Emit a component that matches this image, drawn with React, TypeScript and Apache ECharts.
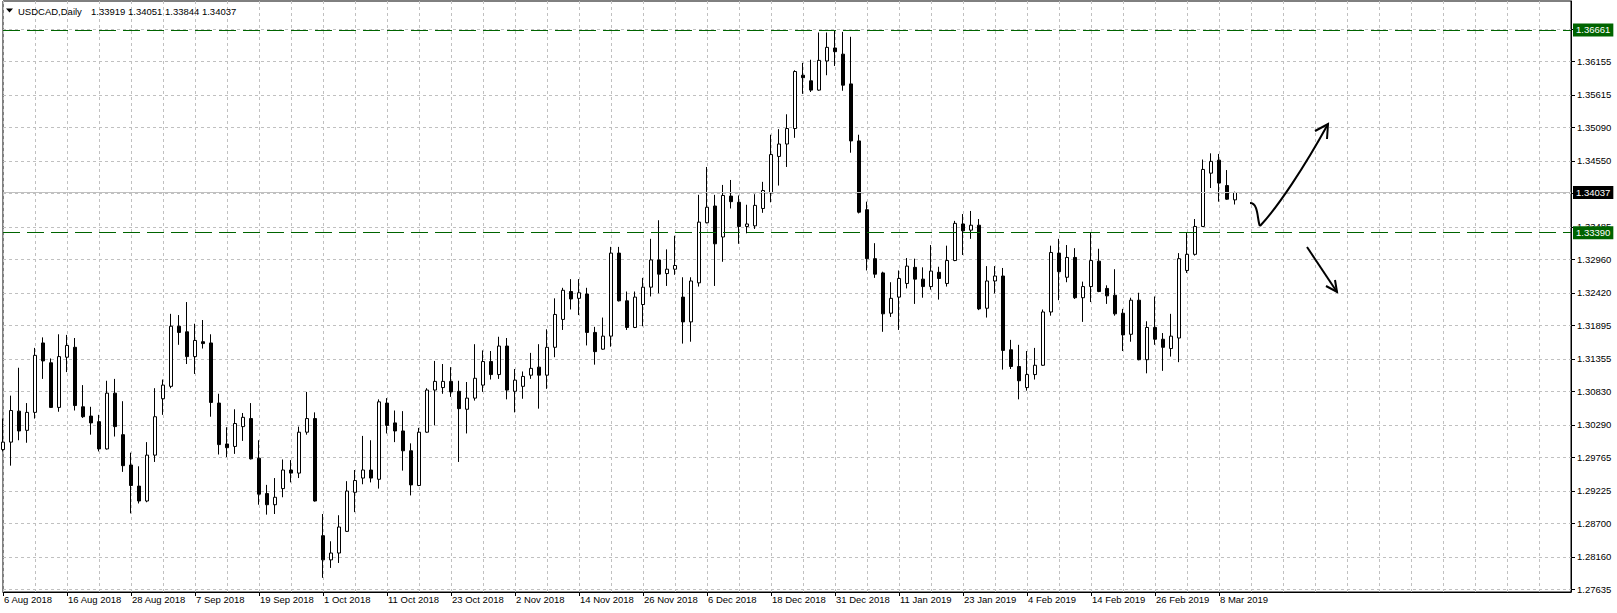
import React, { useEffect, useRef } from "react";
import * as echarts from "echarts";

const symbolName = "USDCAD";
const periodName = "Daily";

const opens = [
  1.2989, 1.3001, 1.3051, 1.3020, 1.3049, 1.3161, 1.3129, 1.3057, 1.3138, 1.3154,
  1.3058, 1.3043, 1.3034, 1.2990, 1.3080, 1.3013, 1.2964, 1.2930, 1.2906, 1.2980,
  1.3071, 1.3091, 1.3188, 1.3179, 1.3139, 1.3163, 1.3161, 1.3064, 1.2998, 1.2994,
  1.3026, 1.3039, 1.2975, 1.2918, 1.2900, 1.2926, 1.2956, 1.2951, 1.3017, 1.3039,
  1.2850, 1.2811, 1.2822, 1.2857, 1.2920, 1.2943, 1.2956, 1.2941, 1.3064, 1.3032,
  1.3019, 1.2987, 1.2931, 1.3017, 1.3085, 1.3089, 1.3099, 1.3083, 1.3054, 1.3072,
  1.3093, 1.3131, 1.3110, 1.3156, 1.3083, 1.3091, 1.3109, 1.3122, 1.3109, 1.3154,
  1.3199, 1.3244, 1.3233, 1.3240, 1.3178, 1.3151, 1.3172, 1.3306, 1.3229, 1.3186,
  1.3223, 1.3251, 1.3295, 1.3273, 1.3280, 1.3235, 1.3195, 1.3258, 1.3355, 1.3382,
  1.3332, 1.3398, 1.3388, 1.3349, 1.3350, 1.3378, 1.3403, 1.3462, 1.3482, 1.3507,
  1.3593, 1.3584, 1.3569, 1.3616, 1.3637, 1.3627, 1.3579, 1.3487, 1.3376, 1.3297,
  1.3274, 1.3209, 1.3235, 1.3257, 1.3283, 1.3264, 1.3252, 1.3275, 1.3257, 1.3294,
  1.3353, 1.3343, 1.3351, 1.3217, 1.3261, 1.3269, 1.3150, 1.3123, 1.3089, 1.3110,
  1.3125, 1.3211, 1.3306, 1.3267, 1.3299, 1.3234, 1.3252, 1.3293, 1.3249, 1.3238,
  1.3209, 1.3175, 1.3230, 1.3134, 1.3186, 1.3167, 1.3152, 1.3169, 1.3278, 1.3304,
  1.3349, 1.3435, 1.3456, 1.3415, 1.33919,
];

const closes = [
  1.3001, 1.3052, 1.3019, 1.3049, 1.3141, 1.3132, 1.3057, 1.3139, 1.3157, 1.3060,
  1.3042, 1.3032, 1.2990, 1.3080, 1.3026, 1.2963, 1.2931, 1.2906, 1.2980, 1.3042,
  1.3093, 1.3188, 1.3178, 1.3139, 1.3165, 1.3160, 1.3065, 1.2997, 1.2992, 1.3031,
  1.3041, 1.2974, 1.2917, 1.2900, 1.2912, 1.2956, 1.2951, 1.3017, 1.3039, 1.2906,
  1.2811, 1.2822, 1.2864, 1.2922, 1.2939, 1.2956, 1.2943, 1.3066, 1.3028, 1.3019,
  1.2987, 1.2932, 1.3017, 1.3085, 1.3099, 1.3099, 1.3082, 1.3055, 1.3072, 1.3104,
  1.3131, 1.3110, 1.3156, 1.3085, 1.3101, 1.3107, 1.3120, 1.3109, 1.3154, 1.3207,
  1.3246, 1.3232, 1.3242, 1.3178, 1.3147, 1.3172, 1.3306, 1.3229, 1.3186, 1.3235,
  1.3251, 1.3295, 1.3272, 1.3280, 1.3286, 1.3195, 1.3261, 1.3356, 1.3380, 1.3321,
  1.3399, 1.3389, 1.3349, 1.3353, 1.3383, 1.3407, 1.3465, 1.3482, 1.3507, 1.3599,
  1.3589, 1.3569, 1.3617, 1.3638, 1.3631, 1.3577, 1.3487, 1.3372, 1.3297, 1.3272,
  1.3208, 1.3233, 1.3265, 1.3285, 1.3264, 1.3252, 1.3277, 1.3265, 1.3294, 1.3354,
  1.3342, 1.3351, 1.3216, 1.3261, 1.3269, 1.3149, 1.3123, 1.3100, 1.3110, 1.3125,
  1.3211, 1.3307, 1.3276, 1.3299, 1.3234, 1.3252, 1.3294, 1.3244, 1.3237, 1.3208,
  1.3174, 1.3230, 1.3134, 1.3186, 1.3167, 1.3154, 1.3172, 1.3297, 1.3304, 1.3349,
  1.3441, 1.3454, 1.3419, 1.3393, 1.34037,
];

const lows = [
  1.2986, 1.2963, 1.3004, 1.3000, 1.3039, 1.3103, 1.3056, 1.3050, 1.3114, 1.3052,
  1.3040, 1.3013, 1.2986, 1.2989, 1.3010, 1.2953, 1.2886, 1.2902, 1.2904, 1.2969,
  1.3045, 1.3088, 1.3158, 1.3127, 1.3111, 1.3152, 1.3042, 1.2981, 1.2977, 1.2982,
  1.3003, 1.2973, 1.2900, 1.2884, 1.2885, 1.2912, 1.2936, 1.2943, 1.3013, 1.2905,
  1.2782, 1.2798, 1.2806, 1.2856, 1.2888, 1.2933, 1.2936, 1.2926, 1.3015, 1.3001,
  1.2955, 1.2915, 1.2930, 1.3016, 1.3028, 1.3079, 1.3074, 1.2969, 1.3015, 1.3068,
  1.3082, 1.3102, 1.3103, 1.3070, 1.3049, 1.3071, 1.3103, 1.3055, 1.3087, 1.3138,
  1.3182, 1.3215, 1.3206, 1.3157, 1.3126, 1.3150, 1.3155, 1.3228, 1.3182, 1.3185,
  1.3188, 1.3236, 1.3241, 1.3253, 1.3271, 1.3160, 1.3163, 1.3252, 1.3354, 1.3253,
  1.3292, 1.3378, 1.3321, 1.3338, 1.3345, 1.3371, 1.3388, 1.3415, 1.3445, 1.3492,
  1.3563, 1.3566, 1.3568, 1.3593, 1.3608, 1.3568, 1.3468, 1.3370, 1.3278, 1.3266,
  1.3179, 1.3203, 1.3182, 1.3249, 1.3224, 1.3234, 1.3247, 1.3231, 1.3252, 1.3293,
  1.3303, 1.3329, 1.3214, 1.3202, 1.3241, 1.3118, 1.3119, 1.3070, 1.3084, 1.3102,
  1.3124, 1.3205, 1.3230, 1.3259, 1.3232, 1.3195, 1.3227, 1.3243, 1.3224, 1.3205,
  1.3148, 1.3163, 1.3133, 1.3112, 1.3158, 1.3116, 1.3139, 1.3130, 1.3274, 1.3302,
  1.3348, 1.3411, 1.3389, 1.3392, 1.33844,
];

const highs = [
  1.3039, 1.3076, 1.3121, 1.3064, 1.3153, 1.3170, 1.3136, 1.3175, 1.3174, 1.3169,
  1.3093, 1.3058, 1.3045, 1.3100, 1.3103, 1.3067, 1.2984, 1.2962, 1.3001, 1.3088,
  1.3102, 1.3208, 1.3206, 1.3227, 1.3192, 1.3198, 1.3175, 1.3079, 1.3025, 1.3054,
  1.3048, 1.3064, 1.3004, 1.2932, 1.2943, 1.2973, 1.2972, 1.3026, 1.3082, 1.3049,
  1.2885, 1.2841, 1.2883, 1.2938, 1.2956, 1.3011, 1.3004, 1.3070, 1.3072, 1.3052,
  1.3051, 1.2999, 1.3024, 1.3088, 1.3132, 1.3127, 1.3122, 1.3100, 1.3098, 1.3159,
  1.3149, 1.3148, 1.3171, 1.3169, 1.3119, 1.3115, 1.3145, 1.3159, 1.3183, 1.3233,
  1.3250, 1.3264, 1.3264, 1.3250, 1.3187, 1.3202, 1.3316, 1.3316, 1.3244, 1.3244,
  1.3266, 1.3329, 1.3359, 1.3312, 1.3334, 1.3267, 1.3267, 1.3400, 1.3445, 1.3400,
  1.3416, 1.3424, 1.3399, 1.3384, 1.3401, 1.3421, 1.3497, 1.3506, 1.3530, 1.3601,
  1.3613, 1.3618, 1.3662, 1.3662, 1.3666, 1.3663, 1.3655, 1.3497, 1.3389, 1.3322,
  1.3276, 1.3259, 1.3278, 1.3298, 1.3297, 1.3283, 1.3319, 1.3284, 1.3318, 1.3358,
  1.3369, 1.3374, 1.3361, 1.3285, 1.3285, 1.3282, 1.3166, 1.3158, 1.3148, 1.3153,
  1.3215, 1.3318, 1.3329, 1.3319, 1.3314, 1.3260, 1.3340, 1.3313, 1.3254, 1.3280,
  1.3216, 1.3234, 1.3242, 1.3196, 1.3236, 1.3177, 1.3208, 1.3306, 1.3340, 1.3361,
  1.3457, 1.3467, 1.3466, 1.3440, 1.34051,
];

const dateLabels = [
  "6 Aug 2018", "16 Aug 2018", "28 Aug 2018", "7 Sep 2018", "19 Sep 2018",
  "1 Oct 2018", "11 Oct 2018", "23 Oct 2018", "2 Nov 2018", "14 Nov 2018",
  "26 Nov 2018", "6 Dec 2018", "18 Dec 2018", "31 Dec 2018", "11 Jan 2019",
  "23 Jan 2019", "4 Feb 2019", "14 Feb 2019", "26 Feb 2019", "8 Mar 2019",
];
const labelEvery = 8;
const gridEvery = 4;
const emptyBarsRight = 42;

const priceTicks = [
  1.27635, 1.2816, 1.287, 1.29225, 1.29765, 1.3029, 1.3083, 1.31355, 1.31895,
  1.3242, 1.3296, 1.33485, 1.34025, 1.3455, 1.3509, 1.35615, 1.36155, 1.3668,
];
const priceMin = 1.275914;
const priceMax = 1.37128;

const resistanceLevel = 1.36661;
const supportLevel = 1.3339;

const FONT = "'Liberation Sans', Arial, sans-serif";

export default function App() {
  const ref = useRef<HTMLDivElement>(null);

  useEffect(() => {
    if (!ref.current) return;
    const chart = echarts.init(ref.current, undefined, { renderer: "svg" });
    const n = opens.length;
    const total = n + emptyBarsRight;
    const categories = Array.from({ length: total }, (_, i) => String(i));
    const candles = opens.map((o, i) => [o, closes[i], lows[i], highs[i]]);
    const last = n - 1;
    const lastClose = closes[last];
    const maxLabelIndex = (dateLabels.length - 1) * labelEvery;
    const showLabelAt = (idx: number) => idx % labelEvery === 0 && idx <= maxLabelIndex;

    const levelLabel = (value: number, bg: string) => ({
      show: true,
      position: "end",
      distance: 2,
      formatter: () => value.toFixed(5),
      color: "#fff",
      backgroundColor: bg,
      padding: [2, 3, 1, 3],
      fontSize: 9.5,
      fontFamily: FONT,
    });

    const option: any = {
      animation: false,
      grid: {
        left: 3,
        top: 1,
        width: 1568,
        height: 591,
        show: true,
        borderColor: "#000",
        borderWidth: 1,
        backgroundColor: "#fff",
      },
      xAxis: {
        type: "category",
        data: categories,
        boundaryGap: false,
        axisLine: { show: true, lineStyle: { color: "#000", width: 1 } },
        axisTick: {
          show: true,
          interval: (idx: number) => showLabelAt(idx),
          length: 4,
          lineStyle: { color: "#000" },
        },
        axisLabel: {
          show: true,
          interval: (idx: number) => showLabelAt(idx),
          formatter: (_v: string, idx: number) => dateLabels[idx / labelEvery] ?? "",
          align: "left",
          margin: 2,
          padding: [0, 0, 0, 1],
          color: "#000",
          fontSize: 9.5,
          fontFamily: FONT,
        },
        splitLine: {
          show: true,
          interval: (idx: number) => idx % gridEvery === 0,
          lineStyle: { color: "#c0c0c0", type: [3, 3], width: 1 },
        },
      },
      yAxis: {
        type: "value",
        position: "right",
        min: priceMin,
        max: priceMax,
        axisLine: { show: true, lineStyle: { color: "#000", width: 1 } },
        axisTick: {
          show: true,
          customValues: priceTicks,
          length: 4,
          lineStyle: { color: "#000" },
        },
        axisLabel: {
          show: true,
          customValues: priceTicks,
          formatter: (v: number) => v.toFixed(5),
          margin: 6,
          color: "#000",
          fontSize: 9.5,
          fontFamily: FONT,
        },
        splitLine: {
          show: true,
          lineStyle: { color: "#c0c0c0", type: [3, 3], width: 1 },
        },
      },
      series: [
        {
          type: "candlestick",
          data: candles,
          barWidth: 4,
          itemStyle: {
            color: "#ffffff",
            color0: "#000000",
            borderColor: "#000000",
            borderColor0: "#000000",
            borderWidth: 1,
          },
          markLine: {
            silent: true,
            symbol: ["none", "none"],
            precision: 5,
            animation: false,
            data: [
              {
                yAxis: resistanceLevel,
                lineStyle: { color: "#006400", type: [17, 7], width: 1 },
                label: levelLabel(resistanceLevel, "#006400"),
              },
              {
                yAxis: supportLevel,
                lineStyle: { color: "#006400", type: [17, 7], width: 1 },
                label: levelLabel(supportLevel, "#006400"),
              },
              {
                yAxis: lastClose,
                lineStyle: { color: "#c0c0c0", type: "solid", width: 1 },
                label: levelLabel(lastClose, "#000"),
              },
            ],
          },
        },
      ],
      graphic: [
        {
          type: "polygon",
          shape: { points: [[6, 8.5], [13, 8.5], [9.5, 12.5]] },
          style: { fill: "#000" },
          z: 100,
        },
        {
          type: "text",
          x: 18,
          y: 11,
          style: {
            text: `${symbolName},${periodName}`,
            fill: "#000",
            fontSize: 9.5,
            fontFamily: FONT,
            verticalAlign: "middle",
          },
          z: 100,
        },
        {
          type: "text",
          x: 91,
          y: 11,
          style: {
            text: [opens[last], highs[last], lows[last], closes[last]].map((v) => v.toFixed(5)).join(" "),
            fill: "#000",
            fontSize: 9.5,
            fontFamily: FONT,
            verticalAlign: "middle",
          },
          z: 100,
        },
        {
          type: "bezierCurve",
          shape: { x1: 1250, y1: 203, cpx1: 1259, cpy1: 203, cpx2: 1257, cpy2: 221, x2: 1260, y2: 226 },
          style: { stroke: "#000", lineWidth: 2, fill: null },
          z: 100,
        },
        {
          type: "bezierCurve",
          shape: { x1: 1260, y1: 226, cpx1: 1278, cpy1: 207, cpx2: 1305, cpy2: 166, x2: 1328, y2: 124 },
          style: { stroke: "#000", lineWidth: 2, fill: null },
          z: 100,
        },
        {
          type: "polyline",
          shape: { points: [[1315, 131], [1328, 124], [1327, 139]] },
          style: { stroke: "#000", lineWidth: 2, fill: null },
          z: 100,
        },
        {
          type: "line",
          shape: { x1: 1307, y1: 247, x2: 1337, y2: 292 },
          style: { stroke: "#000", lineWidth: 2 },
          z: 100,
        },
        {
          type: "polyline",
          shape: { points: [[1326, 286], [1337, 292], [1335, 280]] },
          style: { stroke: "#000", lineWidth: 2, fill: null },
          z: 100,
        },
      ],
    };

    chart.setOption(option);
    return () => chart.dispose();
  }, []);

  return (
    <div
      ref={ref}
      style={{ position: "absolute", left: 0, top: 0, width: 1617, height: 613, background: "#fff" }}
    />
  );
}
